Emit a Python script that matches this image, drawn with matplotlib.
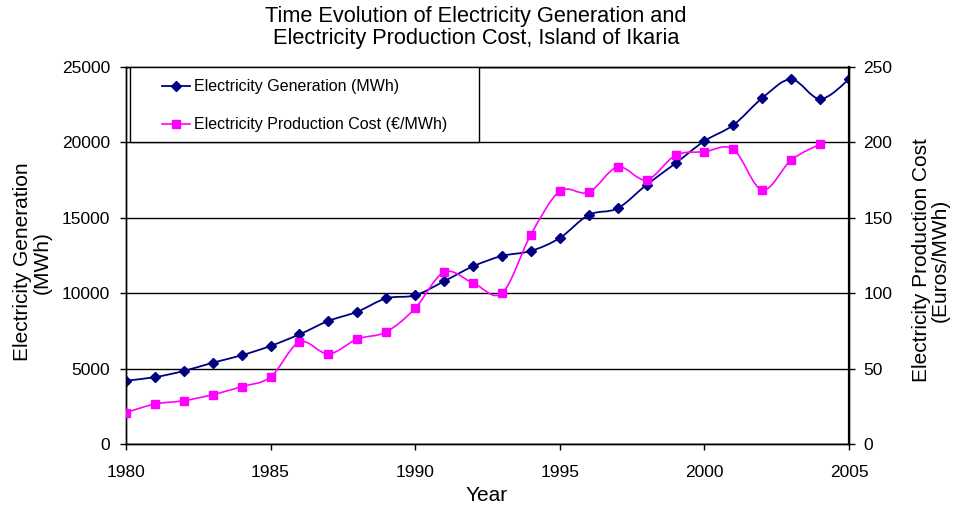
import numpy as np
import matplotlib
matplotlib.use('Agg')
import matplotlib.pyplot as plt
from matplotlib.path import Path
from matplotlib.patches import PathPatch, Rectangle
from matplotlib.lines import Line2D

plt.rcParams['font.family'] = ['Liberation Sans', 'DejaVu Sans']

years = np.arange(1980, 2006)
generation = [4200, 4430, 4840, 5390, 5880, 6500, 7270, 8160, 8770, 9660,
              9860, 10790, 11780, 12470, 12800, 13660, 15190, 15630, 17190, 18610,
              20090, 21150, 22940, 24180, 22880, 24180]
cost_years = np.arange(1980, 2005)
cost = [20.8, 26.5, 28.7, 32.7, 38.0, 44.4, 67.6, 59.7, 69.6, 74.3,
        90.0, 114.0, 106.8, 100.0, 138.8, 167.6, 166.9, 183.7, 175.1, 191.4,
        193.8, 195.4, 168.4, 188.3, 198.9]

navy = '#000080'
pink = '#FF00FF'


def smooth_path(x, y):
    # Excel-style smoothed line: cubic Bezier through every data point
    p = np.column_stack([x, y]).astype(float)
    n = len(p)
    verts = [p[0]]
    codes = [Path.MOVETO]
    for i in range(n - 1):
        p0 = p[i - 1] if i > 0 else p[i]
        p3 = p[i + 2] if i + 2 < n else p[i + 1]
        c1 = p[i] + (p[i + 1] - p0) / 6
        c2 = p[i + 1] - (p3 - p[i]) / 6
        verts += [c1, c2, p[i + 1]]
        codes += [Path.CURVE4] * 3
    return Path(verts, codes)


fig = plt.figure(figsize=(9.54, 5.07), dpi=100)
ax = fig.add_axes([0.132, 0.1243, 0.758, 0.7436])
ax2 = ax.twinx()

ax.add_patch(PathPatch(smooth_path(years, generation), fill=False,
                       edgecolor=navy, lw=1.3, zorder=3))
ax.plot(years, generation, ls='none', marker='D', ms=5, color=navy, zorder=4)

ax2.add_patch(PathPatch(smooth_path(cost_years, cost), fill=False,
                        edgecolor=pink, lw=1.2, zorder=3))
ax2.plot(cost_years, cost, ls='none', marker='s', ms=5.5, color=pink, zorder=4)

ax.set_xlim(1980, 2005)
ax.set_ylim(0, 25000)
ax2.set_ylim(0, 250)
ax.set_xticks(range(1980, 2006, 5))
ax.set_yticks(range(0, 25001, 5000))
ax2.set_yticks(range(0, 251, 50))
ax.yaxis.grid(True, color='black', lw=1)
ax.set_axisbelow(True)

for a in (ax, ax2):
    a.tick_params(labelsize=12.5, length=4.5, width=1, direction='out')
    for s in a.spines.values():
        s.set_linewidth(1)
ax.tick_params(axis='x', pad=10.5)
ax.tick_params(axis='y', pad=7)
ax2.tick_params(axis='y', pad=5.8)
ax2.spines['right'].set_linewidth(1.6)

fig.text(0.499, 0.988, 'Time Evolution of Electricity Generation and\n'
         'Electricity Production Cost, Island of Ikaria',
         fontsize=15.7, ha='center', va='top', linespacing=1.05)
fig.text(0.51, 0.012, 'Year', fontsize=15, ha='center', va='baseline')
fig.text(0.034, 0.483, 'Electricity Generation\n(MWh)', fontsize=15,
         rotation=90, ha='center', va='center', multialignment='center',
         linespacing=1.0)
fig.text(0.976, 0.487, 'Electricity Production Cost\n(Euros/MWh)', fontsize=15,
         rotation=90, ha='center', va='center', multialignment='center',
         linespacing=1.0)

# legend: frame drawn separately so it can be wider than its contents
ax2.add_patch(Rectangle((0.0055, 0.801), 0.4825, 0.199, transform=ax2.transAxes,
                        facecolor='white', edgecolor='black', lw=1, zorder=9))
handles = [Line2D([], [], color=navy, marker='D', ms=5, lw=1.3),
           Line2D([], [], color=pink, marker='s', ms=5.5, lw=1.2)]
leg = ax2.legend(handles, ['Electricity Generation (MWh)',
                           'Electricity Production Cost (\u20ac/MWh)'],
                 loc='upper left', bbox_to_anchor=(0.0498, 0.967), fontsize=11.5,
                 frameon=False, borderpad=0, labelspacing=1.42, handlelength=1.75,
                 borderaxespad=0, handletextpad=0.25)
leg.set_zorder(10)

fig.savefig('out.png', dpi=100)
